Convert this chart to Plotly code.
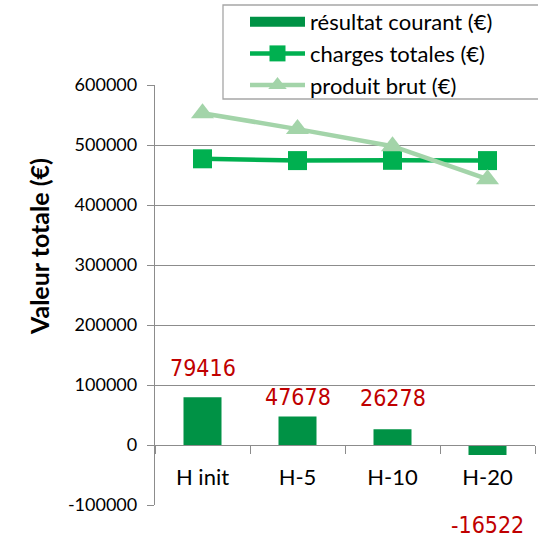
import plotly.graph_objects as go

categories = ["H init", "H-5", "H-10", "H-20"]
resultat_courant = [79416, 47678, 26278, -16522]
charges_totales = [477000, 474000, 474500, 474000]
produit_brut = [553000, 526500, 498000, 443000]
y_tick_values = [-100000, 0, 100000, 200000, 300000, 400000, 500000, 600000]
y_tick_labels = ["-100000", "0", "100000", "200000", "300000", "400000", "500000", "600000"]

label_shift = [29, 19, 31, -70]  # pixel offsets of data labels (style)

W, H = 538, 539
ML, MR, MT, MB = 155, 3, 85, 34
YMIN, YMAX = -100000, 600000
GRID = "#8c8c8c"
FONT = "Lato, Calibri, Carlito, sans-serif"
LABEL_FONT = "DejaVu Sans Condensed, Liberation Sans Narrow, Arial Narrow, sans-serif"

fig = go.Figure()
# legend entry for the bars (wide rectangle swatch like the original)
fig.add_trace(go.Scatter(x=[None], y=[None], name="résultat courant (€)", mode="lines",
                         line=dict(color="#009245", width=13), hoverinfo="skip"))
fig.add_trace(go.Bar(x=categories, y=resultat_courant, name="résultat courant (€)",
                     marker=dict(color="#009245", line=dict(width=0)), width=0.4,
                     showlegend=False))
fig.add_trace(go.Scatter(x=categories, y=charges_totales, name="charges totales (€)",
                         mode="lines+markers",
                         line=dict(color="#00B050", width=4.5),
                         marker=dict(symbol="square", size=19, color="#00B050")))
fig.add_trace(go.Scatter(x=categories, y=produit_brut, name="produit brut (€)",
                         mode="lines+markers",
                         line=dict(color="#A3D4A9", width=4.5),
                         marker=dict(symbol="triangle-up", size=20, color="#A3D4A9")))

for c, v, s in zip(categories, resultat_courant, label_shift):
    fig.add_annotation(x=c, y=v, text=str(v), showarrow=False, yshift=s,
                       yanchor="middle",
                       font=dict(family=LABEL_FONT, size=23, color="#C00000"))

plot_h = H - MT - MB
plot_w = W - ML - MR
zero_pos = (0 - YMIN) / (YMAX - YMIN)

fig.add_annotation(xref="paper", yref="paper", x=(22 - ML) / plot_w, y=(H - MB - 247) / plot_h,
                   text="<b>Valeur totale (€)</b>", textangle=-90, showarrow=False,
                   font=dict(family=FONT, size=25, color="#000000"))

# legend frame
fig.add_shape(type="rect", xref="paper", yref="paper", layer="above",
              x0=(223 - ML) / plot_w, x1=(545 - ML) / plot_w,
              y0=(H - MB - 99) / plot_h, y1=(H - MB - 5) / plot_h,
              line=dict(color="#a6a6a6", width=1.3), fillcolor="white")

fig.update_layout(
    width=W, height=H,
    margin=dict(l=ML, r=MR, t=MT, b=MB, pad=0, autoexpand=False),
    plot_bgcolor="white", paper_bgcolor="white",
    font=dict(family=FONT, size=18, color="#000000"),
    bargap=0.6,
    showlegend=True,
    legend=dict(x=(245 - ML) / plot_w, y=(H - MB - 1) / plot_h, xanchor="left", yanchor="top",
                bgcolor="rgba(0,0,0,0)", borderwidth=0,
                font=dict(family=FONT, size=22, color="#000000"),
                tracegroupgap=0, itemwidth=55),
    xaxis=dict(type="category", anchor="free", position=zero_pos,
               showline=True, linecolor=GRID, linewidth=1.3,
               ticks="outside", ticklen=8, tickcolor=GRID, tickwidth=1.3,
               tickson="boundaries", showgrid=False,
               tickfont=dict(family=FONT, size=22, color="#000000"),
               ticklabelstandoff=12, range=[-0.5, 3.5]),
    yaxis=dict(range=[YMIN, YMAX], tickvals=y_tick_values, ticktext=y_tick_labels,
               showline=True, linecolor=GRID, linewidth=1.3,
               ticks="outside", ticklen=7, tickcolor=GRID, tickwidth=1.3,
               showgrid=True, gridcolor=GRID, gridwidth=1.3,
               zeroline=False, ticklabelstandoff=6,
               tickfont=dict(family=FONT, size=18, color="#000000")),
)

fig.write_html("out.html", config={"displayModeBar": False},
               post_script="document.body.style.margin='0';document.body.style.overflow='hidden';")
